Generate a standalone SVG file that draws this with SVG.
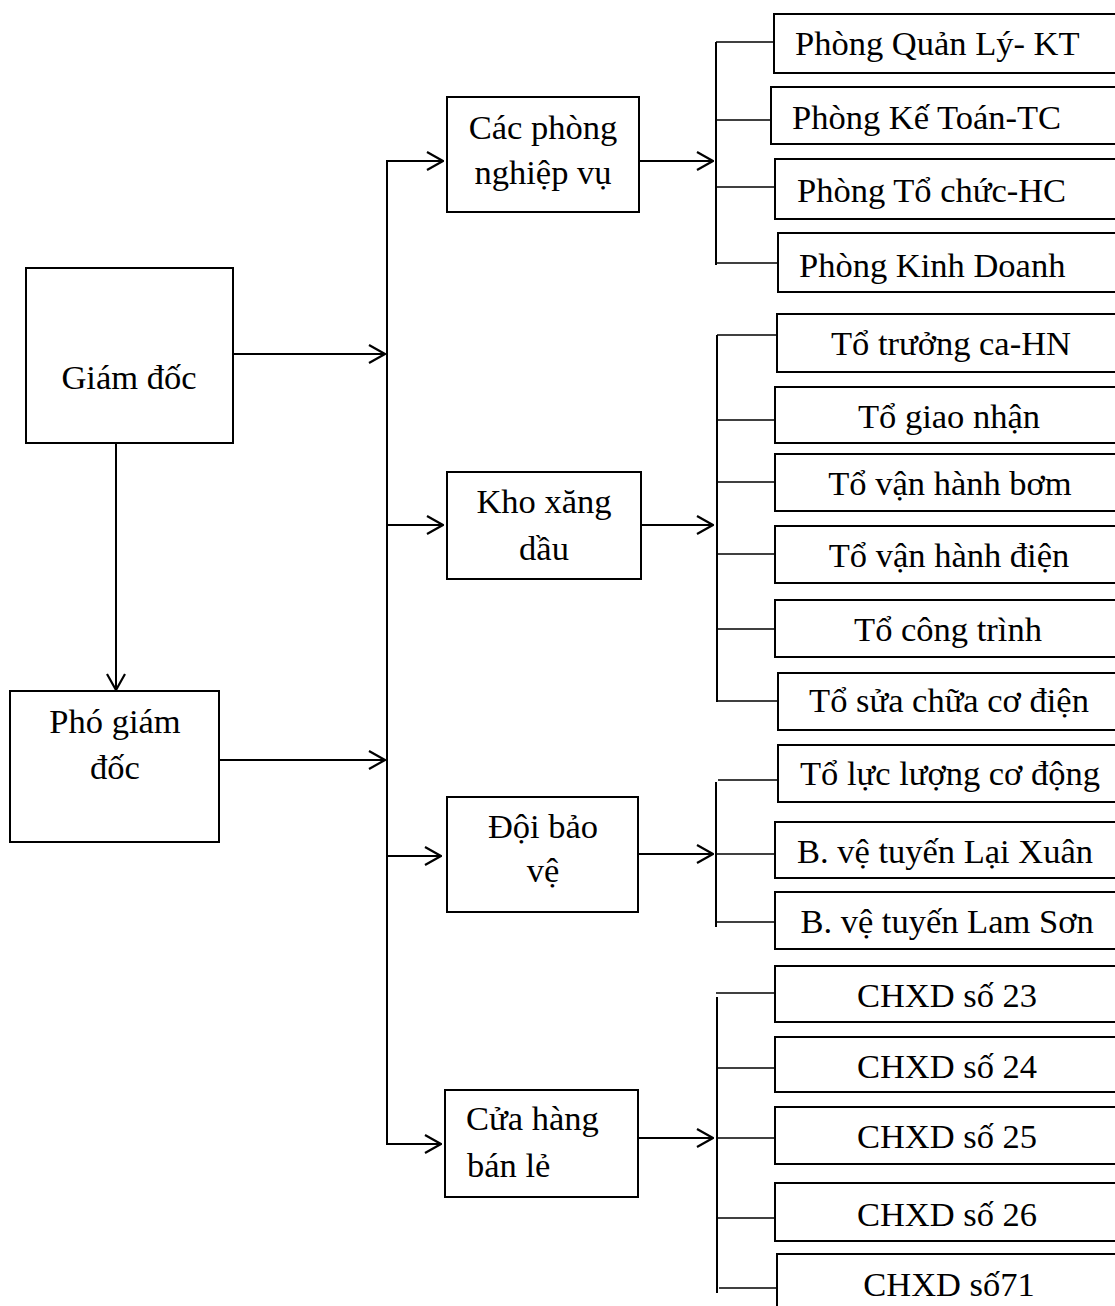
<svg xmlns="http://www.w3.org/2000/svg" width="1115" height="1306" viewBox="0 0 1115 1306">
<defs>
<style>
.box{fill:#fff;stroke:#000;stroke-width:2}
.t{font-family:"Liberation Serif","Times New Roman",serif;font-size:34.5px;fill:#000}
.c{text-anchor:middle}
.ln{stroke:#000;stroke-width:2;fill:none}
.tk{stroke:#000;stroke-width:1.6;fill:none}
</style>
<marker id="arr" viewBox="0 0 18 20" refX="17" refY="10" markerWidth="18" markerHeight="20" markerUnits="userSpaceOnUse" orient="auto">
<path d="M1,1 L17,10 L1,19" fill="none" stroke="#000" stroke-width="2.2"/>
</marker>
</defs>
<rect width="1115" height="1306" fill="#fff"/>

<g id="connectors">
<line class="ln" x1="116" y1="443" x2="116" y2="690" marker-end="url(#arr)"/>
<line class="ln" x1="233" y1="354" x2="385" y2="354" marker-end="url(#arr)"/>
<line class="ln" x1="219" y1="760" x2="385" y2="760" marker-end="url(#arr)"/>
<line class="ln" x1="387" y1="161" x2="387" y2="1144"/>
<line class="ln" x1="386" y1="161" x2="443" y2="161" marker-end="url(#arr)"/>
<line class="ln" x1="387" y1="525" x2="443" y2="525" marker-end="url(#arr)"/>
<line class="ln" x1="387" y1="856" x2="441" y2="856" marker-end="url(#arr)"/>
<line class="ln" x1="386" y1="1144" x2="441" y2="1144" marker-end="url(#arr)"/>
<line class="ln" x1="639" y1="161" x2="713" y2="161" marker-end="url(#arr)"/>
<line class="ln" x1="641" y1="525" x2="713" y2="525" marker-end="url(#arr)"/>
<line class="ln" x1="638" y1="854" x2="713" y2="854" marker-end="url(#arr)"/>
<line class="ln" x1="638" y1="1138" x2="713" y2="1138" marker-end="url(#arr)"/>
<line class="ln" x1="716" y1="42" x2="716" y2="265"/>
<line class="tk" x1="716" y1="42" x2="774" y2="42"/>
<line class="tk" x1="716" y1="120" x2="772" y2="120"/>
<line class="tk" x1="716" y1="187" x2="775" y2="187"/>
<line class="tk" x1="716" y1="263" x2="778" y2="263"/>
<line class="ln" x1="717" y1="335" x2="717" y2="702"/>
<line class="tk" x1="717" y1="335" x2="777" y2="335"/>
<line class="tk" x1="717" y1="420" x2="775" y2="420"/>
<line class="tk" x1="717" y1="482" x2="775" y2="482"/>
<line class="tk" x1="717" y1="554" x2="775" y2="554"/>
<line class="tk" x1="717" y1="629" x2="775" y2="629"/>
<line class="tk" x1="717" y1="701" x2="778" y2="701"/>
<line class="ln" x1="716" y1="782" x2="716" y2="927"/>
<line class="tk" x1="718" y1="780" x2="778" y2="780"/>
<line class="tk" x1="716" y1="854" x2="775" y2="854"/>
<line class="tk" x1="716" y1="922" x2="775" y2="922"/>
<line class="ln" x1="717" y1="997" x2="717" y2="1293"/>
<line class="tk" x1="716" y1="993" x2="775" y2="993"/>
<line class="tk" x1="717" y1="1068" x2="775" y2="1068"/>
<line class="tk" x1="717" y1="1138" x2="775" y2="1138"/>
<line class="tk" x1="717" y1="1218" x2="775" y2="1218"/>
<line class="tk" x1="719" y1="1288" x2="778" y2="1288"/>
</g>

<g id="giam-doc"><rect class="box" x="26" y="268" width="207" height="175"/><text class="t c" x="129" y="389">Giám đốc</text></g>
<g id="pho-giam-doc"><rect class="box" x="10" y="691" width="209" height="151"/><text class="t c" x="115" y="733">Phó giám</text><text class="t c" x="115" y="779">đốc</text></g>

<g id="cac-phong"><rect class="box" x="447" y="97" width="192" height="115"/><text class="t c" x="543" y="139">Các phòng</text><text class="t c" x="543" y="184">nghiệp vụ</text></g>
<g id="kho"><rect class="box" x="447" y="472" width="194" height="107"/><text class="t c" x="544" y="513">Kho xăng</text><text class="t c" x="544" y="560">dầu</text></g>
<g id="doi-bao-ve"><rect class="box" x="447" y="797" width="191" height="115"/><text class="t c" x="543" y="838">Đội bảo</text><text class="t c" x="543" y="882">vệ</text></g>
<g id="cua-hang"><rect class="box" x="445" y="1090" width="193" height="107"/><text class="t" x="466" y="1130">Cửa hàng</text><text class="t" x="467" y="1177">bán lẻ</text></g>

<g id="p-quanly"><rect class="box" x="774" y="14" width="360" height="59"/><text class="t" x="795" y="55">Phòng Quản Lý- KT</text></g>
<g id="p-ketoan"><rect class="box" x="771" y="87" width="360" height="57"/><text class="t" x="792" y="129">Phòng Kế Toán-TC</text></g>
<g id="p-tochuc"><rect class="box" x="775" y="159" width="360" height="60"/><text class="t" x="797" y="202">Phòng Tổ chức-HC</text></g>
<g id="p-kinhdoanh"><rect class="box" x="778" y="233" width="360" height="59"/><text class="t" x="799" y="277">Phòng Kinh Doanh</text></g>

<g id="to-truong"><rect class="box" x="777" y="314" width="360" height="58"/><text class="t c" x="951" y="355">Tổ trưởng ca-HN</text></g>
<g id="to-giaonhan"><rect class="box" x="775" y="387" width="360" height="56"/><text class="t c" x="949" y="428">Tổ giao nhận</text></g>
<g id="to-bom"><rect class="box" x="775" y="454" width="360" height="57"/><text class="t c" x="950" y="495">Tổ vận hành bơm</text></g>
<g id="to-dien"><rect class="box" x="775" y="526" width="360" height="57"/><text class="t c" x="949" y="567">Tổ vận hành điện</text></g>
<g id="to-congtrinh"><rect class="box" x="775" y="600" width="360" height="57"/><text class="t c" x="948" y="641">Tổ công trình</text></g>
<g id="to-suachua"><rect class="box" x="778" y="673" width="360" height="57"/><text class="t c" x="949" y="712">Tổ sửa chữa cơ điện</text></g>

<g id="to-lucluong"><rect class="box" x="778" y="745" width="360" height="57"/><text class="t c" x="950" y="785">Tổ lực lượng cơ động</text></g>
<g id="bv-laixuan"><rect class="box" x="775" y="822" width="360" height="56"/><text class="t c" x="945" y="863">B. vệ tuyến Lại Xuân</text></g>
<g id="bv-lamson"><rect class="box" x="775" y="892" width="360" height="57"/><text class="t c" x="947" y="933">B. vệ tuyến Lam Sơn</text></g>

<g id="chxd23"><rect class="box" x="775" y="966" width="360" height="56"/><text class="t c" x="947" y="1007">CHXD số 23</text></g>
<g id="chxd24"><rect class="box" x="775" y="1037" width="360" height="55"/><text class="t c" x="947" y="1078">CHXD số 24</text></g>
<g id="chxd25"><rect class="box" x="775" y="1107" width="360" height="57"/><text class="t c" x="947" y="1148">CHXD số 25</text></g>
<g id="chxd26"><rect class="box" x="775" y="1183" width="360" height="58"/><text class="t c" x="947" y="1226">CHXD số 26</text></g>
<g id="chxd71"><rect class="box" x="777" y="1254" width="360" height="70"/><text class="t c" x="949" y="1296">CHXD số71</text></g>
</svg>
